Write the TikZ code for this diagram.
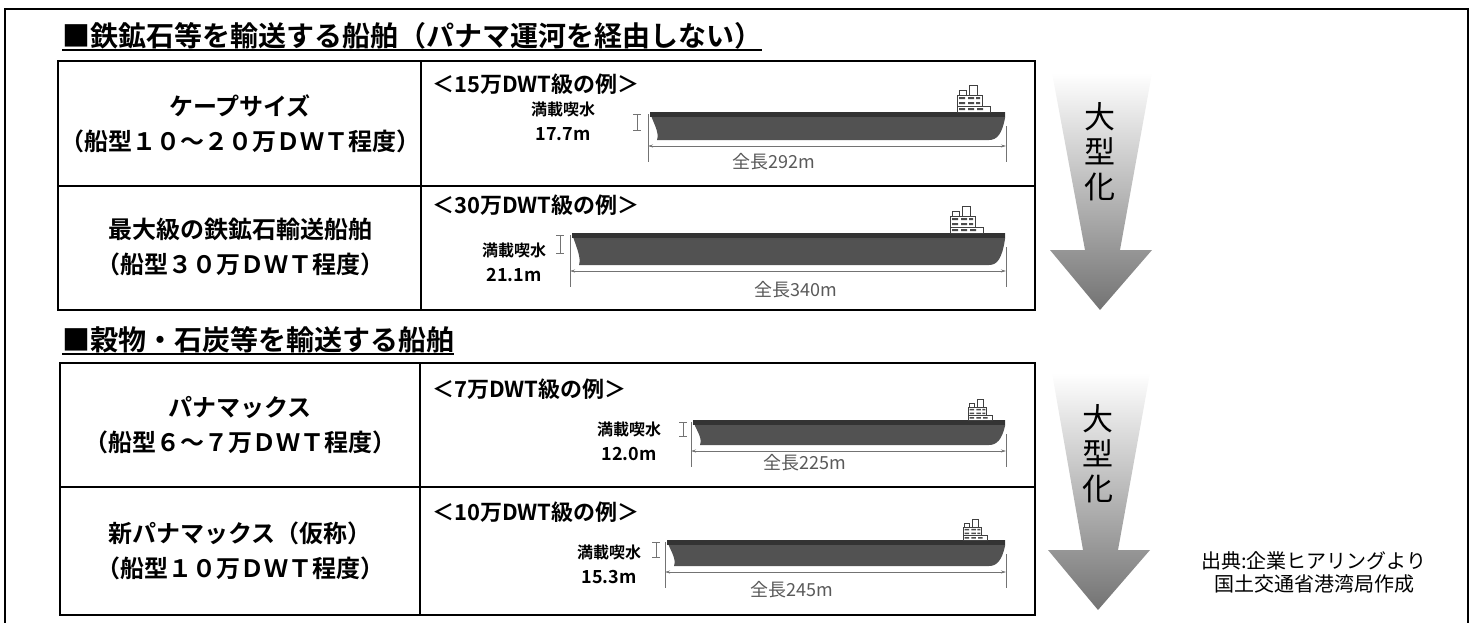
\documentclass[tikz,border=0pt]{standalone}
\usepackage{fontspec}
\setmainfont{Noto Sans CJK JP}[BoldFont={Noto Sans CJK JP Bold}]
\usetikzlibrary{positioning, calc, arrows.meta}

% hull, deck house and dimension lines of one ship
% #1 bow x, #2 stern x, #3 deck y, #4 keel y, #5 house x, #6 house scale, #7 draft mark x
\newcommand{\vessel}[7]{%
    \fill[hull] (#1,#3) -- (#2,#3) -- (#2,{#3+6})
        .. controls ({#2-3},{#4-6}) and ({#2-8},{#4}) .. ({#2-16},{#4})
        -- ({#1+7},{#4})
        .. controls ({#1+10},{#4-8}) and ({#1+2},{#3+9}) .. (#1,#3) -- cycle;
    \fill[deck] (#1,#3) rectangle (#2,{#3+5});
    % deck house
    \begin{scope}[shift={(#5,#3)}, scale=#6]
        \draw[house] (0,0) rectangle (33,-6);
        \draw[house] (0,-6) rectangle (25,-17);
        \draw[house] (2,-17) rectangle (9,-22);
        \draw[house] (12,-17) rectangle (20,-27);
        \fill[black!70] (2,-3.8) rectangle (8,-2) (11,-3.8) rectangle (17,-2) (20,-3.8) rectangle (26,-2);
        \fill[black!70] (2,-9.8) rectangle (8,-8) (11,-9.8) rectangle (17,-8) (19,-9.8) rectangle (23,-8);
        \fill[black!70] (2,-14.8) rectangle (8,-13) (11,-14.8) rectangle (17,-13) (19,-14.8) rectangle (23,-13);
    \end{scope}
    % draft and length
    \draw[dimline] (#7,{#3+2}) -- (#7,{#3+0.65*(#4-#3)});
    \draw[dimline] ({#7-4},{#3+2}) -- ({#7+4},{#3+2});
    \draw[dimline] ({#7-4},{#3+0.65*(#4-#3)}) -- ({#7+4},{#3+0.65*(#4-#3)});
    \draw[dimline] ({#1-2},{#3+2}) -- ({#1-2},{#4+22});
    \draw[dimline] ({#2+1},{#3+14}) -- ({#2+1},{#4+22});
    \draw[dimline, {Stealth[length=5pt,width=3pt]}-{Stealth[length=5pt,width=3pt]}] ({#1-2},{#4+6}) -- ({#2+1},{#4+6});
}

\begin{document}
\begin{tikzpicture}[
    x=1pt, y=-1pt,
    % Estilos
    frame/.style={draw, line width=2.5pt},
    cell/.style={draw, line width=1.6pt},
    rim/.style={draw, line width=2.8pt},
    heading/.style={anchor=base west, inner sep=0pt, font=\fontsize{28}{32}\selectfont\bfseries},
    typebox/.style={align=center, inner sep=0pt, font=\fontsize{24}{35}\selectfont\bfseries},
    example/.style={anchor=west, inner sep=0pt, font=\fontsize{22}{26}\selectfont\bfseries},
    draft/.style={align=center, inner sep=0pt, font=\fontsize{16}{25}\selectfont\bfseries},
    loa/.style={inner sep=0pt, text=black!65, font=\fontsize{18}{20}\selectfont},
    dimline/.style={draw=black!55, line width=0.7pt},
    hull/.style={fill=black!68},
    deck/.style={fill=black!80},
    house/.style={draw=black!75, fill=white, line width=0.7pt},
    bigarrow/.style={top color=white, bottom color=black!55},
    growth/.style={align=center, inner sep=0pt, font=\fontsize{31}{35}\selectfont},
    source/.style={align=center, inner sep=0pt, font=\fontsize{20}{23}\selectfont}
]
    \useasboundingbox (0,0) rectangle (1475,622);
    \draw[frame] (5,9) rectangle (1468,640);

    % --- Minerio de ferro ---
    \node[heading] (h1) at (62,46) {■鉄鉱石等を輸送する船舶（パナマ運河を経由しない）};
    \draw[line width=1.5pt] ([yshift=-4pt]h1.base west) -- ([yshift=-4pt]h1.base east);

    \draw[rim] (58,61) rectangle (1035,310);
    \draw[cell] (58,186) -- (1035,186);
    \draw[cell] (421,61) -- (421,310);

    \node[typebox] (cape) at (240,124) {ケープサイズ\\（船型１０～２０万ＤＷＴ程度）};
    \node[typebox] (vloc) at (240,247) {最大級の鉄鉱石輸送船舶\\（船型３０万ＤＷＴ程度）};

    \node[example] (ex15) at (432,84) {＜15万DWT級の例＞};
    \vessel{650}{1005}{112}{140}{957}{1}{637}
    \node[draft] (d15) at (563,121) {満載喫水\\{\fontsize{18}{20}\selectfont 17.7m}};
    \node[loa] (loa292) at (774,162) {全長292m};

    \node[example] (ex30) at (432,205) {＜30万DWT級の例＞};
    \vessel{572}{1005}{233}{265}{950}{1}{560}
    \node[draft] (d30) at (514,262) {満載喫水\\{\fontsize{18}{20}\selectfont 21.1m}};
    \node[loa] (loa340) at (796,290) {全長340m};

    % --- Graos e carvao ---
    \node[heading] (h2) at (62,350) {■穀物・石炭等を輸送する船舶};
    \draw[line width=1.5pt] ([yshift=-4pt]h2.base west) -- ([yshift=-4pt]h2.base east);

    \draw[rim] (60,363) rectangle (1035,615);
    \draw[cell] (60,487) -- (1035,487);
    \draw[cell] (420,363) -- (420,615);

    \node[typebox] (panamax) at (240,425) {パナマックス\\（船型６～７万ＤＷＴ程度）};
    \node[typebox] (neopanamax) at (240,551) {新パナマックス（仮称）\\（船型１０万ＤＷＴ程度）};

    \node[example] (ex7) at (432,389) {＜7万DWT級の例＞};
    \vessel{693}{1005}{420}{445}{968}{0.75}{683}
    \node[draft] (d7) at (629,441) {満載喫水\\{\fontsize{18}{20}\selectfont 12.0m}};
    \node[loa] (loa225) at (805,463) {全長225m};

    \node[example] (ex10) at (432,512) {＜10万DWT級の例＞};
    \vessel{667}{1005}{540}{566}{963}{0.75}{656}
    \node[draft] (d10) at (609,564) {満載喫水\\{\fontsize{18}{20}\selectfont 15.3m}};
    \node[loa] (loa245) at (792,590) {全長245m};

    % --- Setas ---
    \shade[bigarrow] (1052,73) -- (1152,73) -- (1120,250) -- (1152,250) -- (1100,310)
        -- (1050,250) -- (1085,250) -- cycle;
    \node[growth] (grow1) at (1100,152) {大\\型\\化};
    \shade[bigarrow] (1052,373) -- (1150,373) -- (1118,550) -- (1150,550) -- (1098,610)
        -- (1048,550) -- (1083,550) -- cycle;
    \node[growth] (grow2) at (1098,454) {大\\型\\化};

    \node[source] (src) at (1314,572) {出典:企業ヒアリングより\\国土交通省港湾局作成};
\end{tikzpicture}
\end{document}
